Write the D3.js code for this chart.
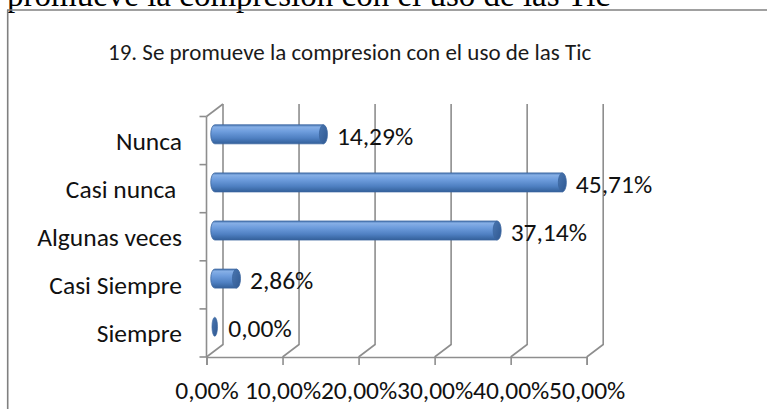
<!DOCTYPE html>
<html><head><meta charset="utf-8">
<script src="https://cdn.jsdelivr.net/npm/d3@7"></script>
<style>html,body{margin:0;padding:0;background:#fff;overflow:hidden}</style>
</head><body>
<script>
// ---- data ----
const docText = "promueve la compresion con el uso de las Tic";
const title = "19. Se promueve la compresion con el uso de las Tic";
const categories = ["Nunca", "Casi nunca ", "Algunas veces", "Casi Siempre", "Siempre"];
const values = [14.29, 45.71, 37.14, 2.86, 0.00];
const tickValues = [0, 10, 20, 30, 40, 50];

const W = 767, H = 409;
const fmt = v => d3.format(".2f")(v).replace(".", ",") + "%";
const FONT = "Carlito, Calibri, Lato, sans-serif";
const LBL = 25.5;

const svg = d3.select("body").append("svg").attr("width", W).attr("height", H);

// gradients
const defs = svg.append("defs");
const g1 = defs.append("linearGradient").attr("id", "body").attr("x1", 0).attr("y1", 0).attr("x2", 0).attr("y2", 1);
[[0, "#4a78b4"], [0.12, "#86afe6"], [0.35, "#6e9ddd"], [0.7, "#4f80c2"], [1, "#33609a"]]
  .forEach(([o, c]) => g1.append("stop").attr("offset", o).attr("stop-color", c));
const g2 = defs.append("linearGradient").attr("id", "cap").attr("x1", 0).attr("y1", 0).attr("x2", 1).attr("y2", 1);
[[0, "#4a76b0"], [1, "#2f5891"]]
  .forEach(([o, c]) => g2.append("stop").attr("offset", o).attr("stop-color", c));

// document text and frame
svg.append("text").attr("x", 7).attr("y", 6)
  .attr("font-family", "'Liberation Serif', 'Times New Roman', serif").attr("font-size", 33)
  .attr("fill", "#000").text(docText);
svg.append("line").attr("x1", 7).attr("x2", W).attr("y1", 10).attr("y2", 10)
  .attr("stroke", "#808080").attr("stroke-width", 1.6);
svg.append("line").attr("x1", 7.7).attr("x2", 7.7).attr("y1", 10).attr("y2", H)
  .attr("stroke", "#808080").attr("stroke-width", 1.6);

// title
svg.append("text").attr("x", 108).attr("y", 59.5)
  .attr("font-family", FONT).attr("font-size", 23).attr("fill", "#1a1a1a").text(title);

// scales
const x = d3.scaleLinear().domain([0, 50]).range([206.5, 586.7]);
const y = d3.scaleBand().domain(categories).range([116.5, 357]);
const DX = 16.5, DY = -12.5;
const GRID = "#8e8e8e";

const grid = svg.append("g").attr("stroke", GRID).attr("stroke-width", 1.6).attr("fill", "none");
// back wall gridlines with floor diagonals
tickValues.forEach(t => {
  grid.append("path").attr("d",
    `M${x(t)},${y.range()[1]} L${x(t) + DX},${y.range()[1] + DY} L${x(t) + DX},${y.range()[0] + DY}`);
});
// side wall top diagonal
grid.append("path").attr("d",
  `M${x(0)},${y.range()[0]} L${x(0) + DX},${y.range()[0] + DY}`);

// x axis (front)
const xAxis = svg.append("g").attr("transform", `translate(0,${y.range()[1]})`)
  .call(d3.axisBottom(x).tickValues(tickValues).tickFormat(fmt).tickSize(8).tickPadding(16));
xAxis.select(".domain").attr("stroke", GRID).attr("stroke-width", 1.6);
xAxis.selectAll(".tick line").attr("stroke", GRID).attr("stroke-width", 1.6);
xAxis.selectAll(".tick text").attr("font-family", FONT).attr("font-size", LBL).attr("fill", "#111");

// y axis (front)
const yAxis = svg.append("g");
yAxis.append("line").attr("x1", x(0)).attr("x2", x(0)).attr("y1", y.range()[0]).attr("y2", y.range()[1])
  .attr("stroke", GRID).attr("stroke-width", 1.6);
const edges = categories.map(c => y(c)).concat([y.range()[1]]);
yAxis.selectAll(".yt").data(edges).join("line").attr("class", "yt")
  .attr("x1", x(0) - 7).attr("x2", x(0)).attr("y1", d => d).attr("y2", d => d)
  .attr("stroke", GRID).attr("stroke-width", 1.6);
yAxis.selectAll(".yl").data(categories).join("text").attr("class", "yl")
  .attr("x", 182).attr("y", c => y(c) + y.bandwidth() / 2 + 9)
  .attr("text-anchor", "end").attr("font-family", FONT).attr("font-size", LBL).attr("fill", "#111")
  .attr("xml:space", "preserve").style("white-space", "pre")
  .text(c => c);

// bars (cylinders)
const RY = 9.5, RX = 4;
const bars = svg.append("g");
categories.forEach((c, i) => {
  const v = values[i];
  const cy = y(c) + y.bandwidth() / 2 + DY / 2;
  const x0 = x(0) + DX / 2, x1 = x(v) + DX / 2;
  if (v > 0) {
    bars.append("path")
      .attr("d", `M${x1},${cy - RY} L${x0},${cy - RY} A${RX},${RY} 0 0 0 ${x0},${cy + RY} L${x1},${cy + RY} Z`)
      .attr("fill", "url(#body)").attr("stroke", "#3b669f").attr("stroke-width", 0.8);
    bars.append("ellipse").attr("cx", x1).attr("cy", cy).attr("rx", RX).attr("ry", RY)
      .attr("fill", "url(#cap)").attr("stroke", "#3b669f").attr("stroke-width", 0.8);
  } else {
    bars.append("ellipse").attr("cx", x0).attr("cy", cy).attr("rx", 2.8).attr("ry", RY)
      .attr("fill", "url(#cap)").attr("stroke", "#3b669f").attr("stroke-width", 0.6);
  }
  svg.append("text").attr("x", x1 + RX + 9.5).attr("y", y(c) + y.bandwidth() / 2 + 4.5)
    .attr("font-family", FONT).attr("font-size", LBL).attr("fill", "#111").text(fmt(v));
});
</script>
</body></html>
